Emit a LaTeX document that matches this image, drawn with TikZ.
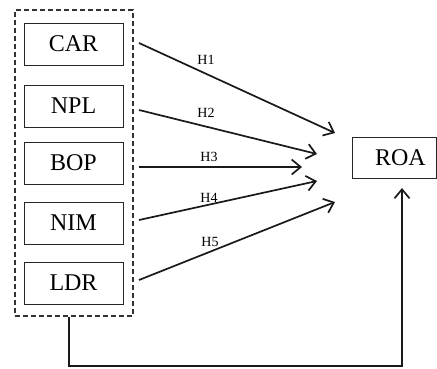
\documentclass[tikz,border=0pt]{standalone}
\usepackage{fontspec}
\setmainfont{Liberation Serif}
\usetikzlibrary{arrows.meta,fit}

\tikzset{
  varbox/.style={draw=black!85, line width=0.9pt, minimum width=99pt, minimum height=42pt,
    inner sep=0pt, font=\fontsize{24}{28}\selectfont},
  group/.style={draw=black!80, line width=1.3pt, dash pattern=on 5pt off 3pt, inner sep=0pt},
  link/.style={line width=1.7pt, draw=black!90,
    -{Straight Barb[length=9pt,width=15pt,line width=1.7pt]}},
  hyp/.style={font=\fontsize{14}{16}\selectfont, inner sep=0pt}
}

\begin{document}
\begin{tikzpicture}[x=1pt,y=-1pt]
  \useasboundingbox (0,0) rectangle (437,368);

  % independent variables
  \node[varbox] (car) at (73.5,44)  {CAR};
  \node[varbox] (npl) at (73.5,106) {NPL};
  \node[varbox] (bop) at (73.5,163) {BOP};
  \node[varbox] (nim) at (73.5,223) {NIM};
  \node[varbox] (ldr) at (73.5,283) {LDR};

  % dashed group around them
  \coordinate (gtl) at (15,10);
  \coordinate (gbr) at (133,316);
  \node[group, fit=(gtl)(gbr)] (grp) {};

  % dependent variable
  \node[varbox, minimum width=84pt, minimum height=41pt] (roa) at (394,158)
    {\makebox[84pt][l]{\hspace{23pt}ROA}};

  % arrow end points
  \coordinate (s1) at (139,43);
  \coordinate (s2) at (139,110);
  \coordinate (s3) at (139,167);
  \coordinate (s4) at (139,220);
  \coordinate (s5) at (139,280);
  \coordinate (t1) at (335,133);
  \coordinate (t2) at (317,154);
  \coordinate (t3) at (302,167);
  \coordinate (t4) at (317,181);
  \coordinate (t5) at (335,202);

  \draw[link] (s1) -- (t1);
  \draw[link] (s2) -- (t2);
  \draw[link] (s3) -- (t3);
  \draw[link] (s4) -- (t4);
  \draw[link] (s5) -- (t5);

  % hypothesis labels
  \node[hyp] (h1) at (206,60)  {H1};
  \node[hyp] (h2) at (206,112.5) {H2};
  \node[hyp] (h3) at (209,157) {H3};
  \node[hyp] (h4) at (209,198) {H4};
  \node[hyp] (h5) at (210,242) {H5};

  % direct path from the group to ROA
  \coordinate (b1) at (69,366);
  \coordinate (roain) at (402,188);
  \draw[link] (grp.south -| b1) -- (b1) -- (b1 -| roain) -- (roain);
\end{tikzpicture}
\end{document}
